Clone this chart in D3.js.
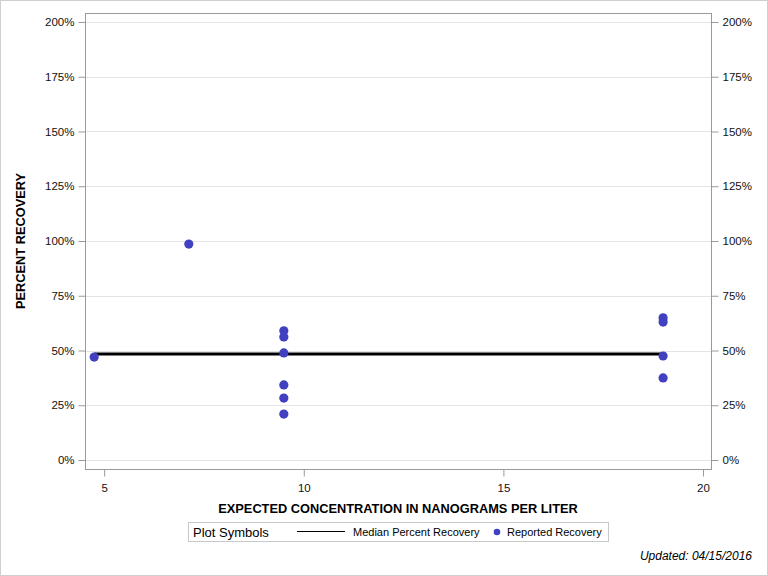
<!DOCTYPE html>
<html>
<head>
<meta charset="utf-8">
<script src="https://cdn.jsdelivr.net/npm/d3@7"></script>
<style>
  body { margin: 0; background: #fff; }
  text { font-family: "Liberation Sans", Arial, sans-serif; }
</style>
</head>
<body>
<div id="chart"></div>
<script>
// reported recovery points
const concX = [4.75, 7.12, 9.5, 9.5, 9.5, 9.5, 9.5, 9.5, 19.0, 19.0, 19.0, 19.0];
const recoveryY = [47, 98.6, 59, 56.2, 48.9, 34.3, 28.3, 21, 64.9, 63, 47.5, 37.5];
// median line
const medianX = [4.75, 7.12, 9.5, 19.0];
const medianY = [48.4, 48.4, 48.4, 48.4];
const xTicks = [5, 10, 15, 20];
const yTicks = [0, 25, 50, 75, 100, 125, 150, 175, 200];

const W = 768, H = 576;
const m = {l: 85, r: 711, t: 13, b: 469};

const svg = d3.select('#chart').append('svg')
    .attr('width', W).attr('height', H);

svg.append('rect')
    .attr('x', 0.5).attr('y', 0.5).attr('width', W - 1).attr('height', H - 1)
    .attr('fill', '#fff').attr('stroke', '#d0d0d0');

const x = d3.scaleLinear().domain([4.52, 20.2]).range([m.l, m.r]);
const y = d3.scaleLinear().domain([-4.1, 204.1]).range([m.b, m.t]);

// gridlines
svg.append('g')
    .selectAll('line')
    .data(yTicks)
    .enter()
    .append('line')
    .attr('x1', m.l).attr('x2', m.r)
    .attr('y1', d => Math.round(y(d)) + 0.5).attr('y2', d => Math.round(y(d)) + 0.5)
    .attr('stroke', '#e4e4e4');

// frame
svg.append('rect')
    .attr('x', m.l + 0.5).attr('y', m.t + 0.5)
    .attr('width', m.r - m.l).attr('height', m.b - m.t)
    .attr('fill', 'none').attr('stroke', '#9a9a9a');

const fmt = d => d + '%';

const left = svg.append('g')
    .attr('transform', `translate(${m.l + 0.5},0)`)
    .call(d3.axisLeft(y).tickValues(yTicks).tickFormat(fmt).tickSize(7).tickPadding(4));
const right = svg.append('g')
    .attr('transform', `translate(${m.r + 0.5},0)`)
    .call(d3.axisRight(y).tickValues(yTicks).tickFormat(fmt).tickSize(7).tickPadding(4));
const bottom = svg.append('g')
    .attr('transform', `translate(0,${m.b + 0.5})`)
    .call(d3.axisBottom(x).tickValues(xTicks).tickSize(7).tickPadding(7));

[left, right, bottom].forEach(a => {
    a.select('.domain').remove();
    a.selectAll('line').attr('stroke', '#9a9a9a');
    a.selectAll('text').attr('font-size', 11.5).attr('fill', '#111')
        .attr('font-family', '"Liberation Sans", Arial, sans-serif');
});

// median line
const line = d3.line().x((d, i) => x(medianX[i])).y((d, i) => y(medianY[i]));
svg.append('path')
    .datum(medianX)
    .attr('d', line)
    .attr('fill', 'none').attr('stroke', '#000').attr('stroke-width', 3);

// points
svg.append('g')
    .selectAll('circle')
    .data(concX)
    .enter()
    .append('circle')
    .attr('cx', d => x(d))
    .attr('cy', (d, i) => y(recoveryY[i]))
    .attr('r', 4.6)
    .attr('fill', '#4040c0');

// axis labels
svg.append('text')
    .attr('x', (m.l + m.r) / 2).attr('y', 513)
    .attr('text-anchor', 'middle')
    .attr('font-size', 12.8).attr('font-weight', 'bold').attr('fill', '#000')
    .text('EXPECTED CONCENTRATION IN NANOGRAMS PER LITER');

svg.append('text')
    .attr('transform', `translate(25,${(m.t + m.b) / 2}) rotate(-90)`)
    .attr('text-anchor', 'middle')
    .attr('font-size', 12.8).attr('font-weight', 'bold').attr('fill', '#000')
    .text('PERCENT RECOVERY');

// legend
const lg = svg.append('g');
lg.append('rect')
    .attr('x', 188.5).attr('y', 522.5).attr('width', 420).attr('height', 19)
    .attr('fill', '#fff').attr('stroke', '#c8c8c8');
lg.append('text').attr('x', 193).attr('y', 537)
    .attr('font-size', 13).attr('fill', '#000').text('Plot Symbols');
lg.append('line').attr('x1', 297).attr('x2', 345).attr('y1', 531.5).attr('y2', 531.5)
    .attr('stroke', '#000').attr('stroke-width', 1.2);
lg.append('text').attr('x', 353).attr('y', 536)
    .attr('font-size', 11).attr('fill', '#000').text('Median Percent Recovery');
lg.append('circle').attr('cx', 497).attr('cy', 532).attr('r', 3.3).attr('fill', '#4040c0');
lg.append('text').attr('x', 507).attr('y', 536)
    .attr('font-size', 11).attr('fill', '#000').text('Reported Recovery');

svg.append('text')
    .attr('x', 752).attr('y', 560)
    .attr('text-anchor', 'end')
    .attr('font-size', 12).attr('font-style', 'italic').attr('fill', '#000')
    .text('Updated: 04/15/2016');
</script>
</body>
</html>
